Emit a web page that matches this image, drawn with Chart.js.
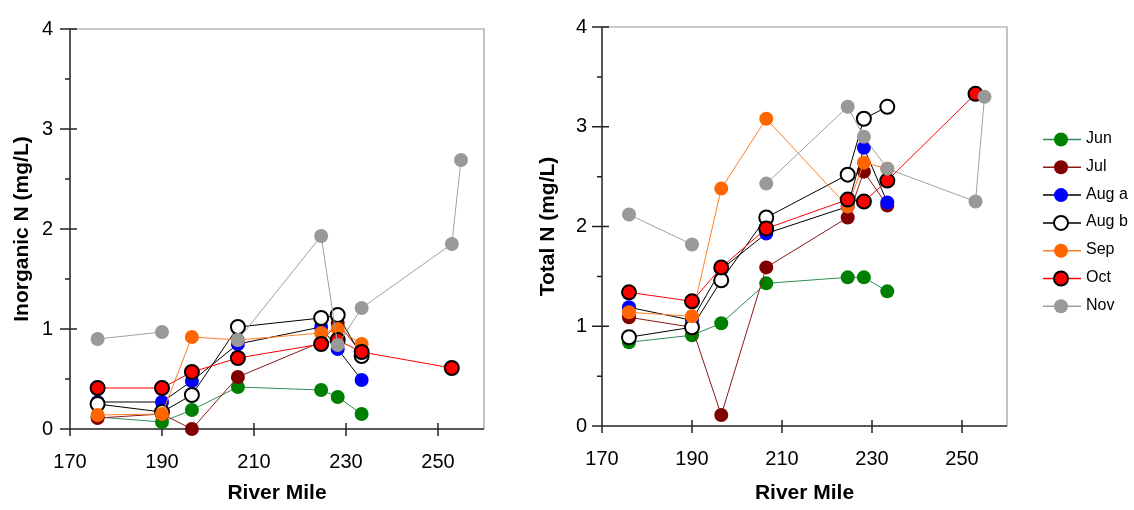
<!DOCTYPE html>
<html>
<head>
<meta charset="utf-8">
<script src="https://cdn.jsdelivr.net/npm/chart.js"></script>
<style>
  body { margin: 0; background: #fff; }
  #wrap { position: relative; width: 1134px; height: 510px; }
  canvas { position: absolute; top: 0; }
  #inorgChart { left: 0; }
  #totalChart { left: 520px; }
</style>
</head>
<body>
<div id="wrap">
  <canvas id="inorgChart" width="520" height="510"></canvas>
  <canvas id="totalChart" width="614" height="510"></canvas>
</div>
<script>
// sampling stations (river mile) shared by every survey
const riverMile = [176, 190, 196.5, 206.5, 224.6, 228.2, 233.4, 253, 255];
const months = ['Jun', 'Jul', 'Aug a', 'Aug b', 'Sep', 'Oct', 'Nov'];

// inorganic N, mg/L (null = not sampled)
const inorgJun  = [0.12, 0.07, 0.19, 0.42, 0.39, 0.32, 0.15, null, null];
const inorgJul  = [0.11, 0.15, 0.00, 0.52, 0.87, 1.06, 0.76, null, null];
const inorgAugA = [0.27, 0.27, 0.48, 0.85, 1.02, 0.80, 0.49, null, null];
const inorgAugB = [0.25, 0.17, 0.34, 1.02, 1.11, 1.14, 0.73, null, null];
const inorgSep  = [0.14, 0.15, 0.92, 0.89, 0.96, 1.00, 0.85, null, null];
const inorgOct  = [0.41, 0.41, 0.57, 0.71, 0.85, 0.89, 0.77, 0.61, null];
const inorgNov  = [0.90, 0.97, null, 0.89, 1.93, 0.84, 1.21, 1.85, 2.69];

// total N, mg/L
const totJun  = [0.84, 0.91, 1.03, 1.43, 1.49, 1.49, 1.35, null, null];
const totJul  = [1.09, 0.99, 0.11, 1.59, 2.09, 2.55, 2.21, null, null];
const totAugA = [1.19, 1.06, 1.57, 1.93, 2.20, 2.79, 2.24, null, null];
const totAugB = [0.89, 0.99, 1.46, 2.09, 2.52, 3.08, 3.20, null, null];
const totSep  = [1.14, 1.10, 2.38, 3.08, 2.20, 2.64, 2.58, null, null];
const totOct  = [1.34, 1.25, 1.59, 1.98, 2.27, 2.25, 2.46, 3.33, null];
const totNov  = [2.12, 1.82, null, 2.43, 3.20, 2.90, 2.58, 2.25, 3.30];

const xTicks = [170, 190, 210, 230, 250];
const yTicks = [0, 0.5, 1, 1.5, 2, 2.5, 3, 3.5, 4];

// marker / line styling per month
const monthStyles = [
  { line: '#2e8b57', fill: '#008000', edge: '#008000', edgeWidth: 0 },
  { line: '#8b1a1a', fill: '#800000', edge: '#800000', edgeWidth: 0 },
  { line: '#000000', fill: '#0000ff', edge: '#0000ff', edgeWidth: 0 },
  { line: '#000000', fill: '#ffffff', edge: '#000000', edgeWidth: 2 },
  { line: '#ff7f27', fill: '#ff6600', edge: '#ff6600', edgeWidth: 0 },
  { line: '#ff0000', fill: '#ff0000', edge: '#000000', edgeWidth: 2 },
  { line: '#a0a0a0', fill: '#999999', edge: '#999999', edgeWidth: 0 }
];

const FONT = "'Liberation Sans', Arial, sans-serif";

function buildDatasets(seriesList) {
  return seriesList.map((values, i) => {
    const s = monthStyles[i];
    return {
      label: months[i],
      data: riverMile.map((x, j) => ({ x: x, y: values[j] })),
      borderColor: s.line,
      borderWidth: 1,
      pointRadius: 7,
      pointBackgroundColor: s.fill,
      pointBorderColor: s.edge,
      pointBorderWidth: s.edgeWidth,
      spanGaps: false,
      clip: false,
      order: seriesList.length - i
    };
  });
}

// axis lines, tick marks and the grey box edges
const framePlugin = {
  id: 'frame',
  beforeDatasetsDraw(chart) {
    const { ctx, chartArea, scales } = chart;
    const { left, right, top, bottom } = chartArea;
    ctx.save();
    ctx.strokeStyle = '#9a9a9a';
    ctx.lineWidth = 1.2;
    ctx.beginPath();
    ctx.moveTo(left, top);
    ctx.lineTo(right, top);
    ctx.lineTo(right, bottom);
    ctx.stroke();

    ctx.strokeStyle = '#222';
    ctx.lineWidth = 1.5;
    ctx.beginPath();
    ctx.moveTo(left, top);
    ctx.lineTo(left, bottom);
    ctx.moveTo(left - 10, bottom);
    ctx.lineTo(right, bottom);
    scales.y.ticks.forEach(t => {
      const py = scales.y.getPixelForValue(t.value);
      const major = t.value % 1 === 0;
      ctx.moveTo(left - (major ? 10 : 5), py);
      ctx.lineTo(left + (major ? 7 : 0), py);
    });
    scales.x.ticks.forEach(t => {
      const px = scales.x.getPixelForValue(t.value);
      ctx.moveTo(px, bottom - 6);
      ctx.lineTo(px, bottom + 7);
    });
    ctx.stroke();
    ctx.restore();
  }
};

// line-and-marker legend to the right of the total N panel
const sideLegendPlugin = {
  id: 'sideLegend',
  afterDraw(chart) {
    const ctx = chart.ctx;
    ctx.save();
    chart.data.datasets.forEach((ds, i) => {
      const y = 139.5 + i * 27.8;
      ctx.strokeStyle = ds.borderColor;
      ctx.lineWidth = 1.5;
      ctx.beginPath();
      ctx.moveTo(523, y);
      ctx.lineTo(561, y);
      ctx.stroke();
      ctx.beginPath();
      ctx.arc(541, y, 7, 0, Math.PI * 2);
      ctx.fillStyle = ds.pointBackgroundColor;
      ctx.fill();
      if (ds.pointBorderWidth) {
        ctx.lineWidth = ds.pointBorderWidth;
        ctx.strokeStyle = ds.pointBorderColor;
        ctx.stroke();
      }
      ctx.fillStyle = '#000';
      ctx.font = '16px ' + FONT;
      ctx.textBaseline = 'middle';
      ctx.fillText(ds.label, 566, y - 1);
    });
    ctx.restore();
  }
};

function createPanel(canvasId, seriesList, yTitle, geom, extraPlugins) {
  const ctx = document.getElementById(canvasId);
  return new Chart(ctx, {
    type: 'line',
    data: { datasets: buildDatasets(seriesList) },
    options: {
      responsive: false,
      animation: false,
      layout: { padding: { left: 0, top: geom.top, right: geom.right, bottom: 0 } },
      plugins: { legend: { display: false }, tooltip: { enabled: false } },
      scales: {
        x: {
          type: 'linear',
          min: 170,
          max: 260,
          afterBuildTicks: scale => { scale.ticks = xTicks.map(v => ({ value: v })); },
          afterFit: scale => { scale.height = geom.xHeight; },
          grid: { display: false, drawTicks: false },
          border: { display: false },
          ticks: { color: '#000', padding: 21, font: { family: FONT, size: 20 } },
          title: {
            display: true, text: 'River Mile', color: '#000',
            font: { family: FONT, size: 21, weight: 'bold' },
            padding: { top: 0, bottom: 4.5 }
          }
        },
        y: {
          min: 0,
          max: 4,
          afterBuildTicks: scale => { scale.ticks = yTicks.map(v => ({ value: v })); },
          afterFit: scale => { scale.width = geom.yWidth; },
          grid: { display: false, drawTicks: false },
          border: { display: false },
          ticks: {
            color: '#000', padding: geom.yPad, font: { family: FONT, size: 20 },
            callback: v => (v % 1 === 0 ? String(v) : '')
          },
          title: {
            display: true, text: yTitle, color: '#000',
            font: { family: FONT, size: 21, weight: 'bold' },
            padding: { top: geom.yTitlePad, bottom: 0 }
          }
        }
      }
    },
    plugins: [framePlugin].concat(extraPlugins || [])
  });
}

window.addEventListener('load', function() {
  createPanel('inorgChart',
    [inorgJun, inorgJul, inorgAugA, inorgAugB, inorgSep, inorgOct, inorgNov],
    'Inorganic N (mg/L)',
    { top: 15, right: 36, xHeight: 81, yWidth: 70, yPad: 17, yTitlePad: 9.4 });
  createPanel('totalChart',
    [totJun, totJul, totAugA, totAugB, totSep, totOct, totNov],
    'Total N (mg/L)',
    { top: 21, right: 127, xHeight: 84, yWidth: 82, yPad: 15, yTitlePad: 15.4 },
    [sideLegendPlugin]);
});
</script>
</body>
</html>
